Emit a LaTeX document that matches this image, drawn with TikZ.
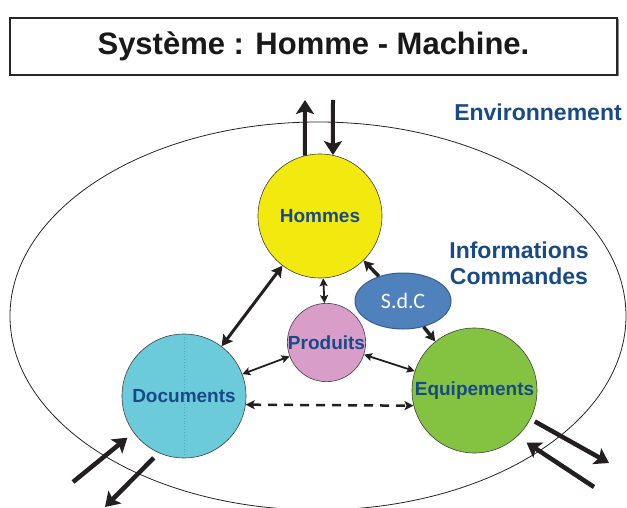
\documentclass[tikz,border=0pt]{standalone}
\usepackage{fontspec}
\setmainfont{Liberation Sans}
\newfontfamily\sdcfont{Carlito}
\usepackage{tikz}
\usetikzlibrary{arrows.meta,shadows,shapes.geometric}

\definecolor{txtblue}{RGB}{24,74,134}
\definecolor{homyellow}{RGB}{242,234,14}
\definecolor{prodpink}{RGB}{216,157,200}
\definecolor{doccyan}{RGB}{108,203,218}
\definecolor{docline}{RGB}{84,168,196}
\definecolor{equipgreen}{RGB}{132,195,65}
\definecolor{sdcblue}{RGB}{79,129,189}
\definecolor{sdcedge}{RGB}{56,93,138}
\definecolor{arrowblack}{RGB}{35,31,32}

\tikzset{
	pole/.style={circle, draw=black!75, line width=0.6pt, inner sep=0pt, minimum size=124pt,
		font=\fontsize{19}{22}\selectfont\bfseries, text=txtblue},
	titlebox/.style={draw=black!85, line width=1.3pt, fill=white, minimum width=607pt, minimum height=57pt,
		font=\fontsize{31}{36}\selectfont\bfseries, text=black!90,
		drop shadow={shadow xshift=1.5pt, shadow yshift=-1.5pt, fill=black!45, opacity=1}},
	envlabel/.style={font=\fontsize{23}{26}\selectfont\bfseries, text=txtblue, align=center, inner sep=0pt},
	bigarrow/.style={line width=4.5pt, color=arrowblack, -{Stealth[length=14pt,width=18pt,inset=3pt]}},
	midarrow/.style={line width=3pt, color=arrowblack, {Stealth[length=11pt,width=12pt,inset=2pt]}-{Stealth[length=11pt,width=12pt,inset=2pt]}},
	sdcarrow/.style={line width=3.5pt, color=arrowblack, -{Stealth[length=10pt,width=11pt,inset=2pt]}},
	thinarrow/.style={line width=1.8pt, color=arrowblack, {Stealth[length=8pt,width=8pt,inset=1.5pt]}-{Stealth[length=8pt,width=8pt,inset=1.5pt]}},
	dasharrow/.style={line width=2.5pt, color=arrowblack, dash pattern=on 9pt off 7pt, {Stealth[length=9pt,width=9pt,inset=2pt]}-{Stealth[length=9pt,width=9pt,inset=2pt]}}
}

\begin{document}
\begin{tikzpicture}[x=1pt, y=-1pt]
	%%%%% START %%%%%
	\useasboundingbox (0,0) rectangle (627,508);
	
	\node[titlebox] (title) at (313.5,46.5) {Système : Homme - Machine.};
	
	% environnement
	\draw[line width=0.8pt, color=black!85] (318,316) ellipse [x radius=308, y radius=194];
	\node[envlabel] (env) at (538,112) {Environnement};
	\node[envlabel] (info) at (519,263) {Informations\\Commandes};
	
	% les poles
	\node[pole, fill=homyellow] (hom) at (320,216) {Hommes};
	\node[pole, fill=prodpink, minimum size=77pt] (prod) at (326.5,342.5) {Produits};
	\node[pole, fill=doccyan] (doc) at (184,396) {};
	\draw[dotted, line width=0.8pt, color=docline] (doc.north) -- (doc.south);
	\node[font=\fontsize{19}{22}\selectfont\bfseries, text=txtblue] (doclabel) at (doc) {Documents};
	\node[pole, fill=equipgreen, minimum size=125pt] (equip) at (474.5,390.5) {Equipements};
	\node[ellipse, draw=sdcedge, line width=1pt, fill=sdcblue, minimum width=96pt, minimum height=56pt,
		font=\sdcfont\fontsize{22}{24}\selectfont, text=white] (sdc) at (403,301) {S.d.C};
	
	% liaisons internes
	\draw[midarrow] (hom) -- (doc);
	\draw[thinarrow] (hom) -- (prod);
	\draw[sdcarrow] (sdc) -- (hom);
	\draw[sdcarrow] (sdc) -- (equip);
	\draw[thinarrow] (prod) -- (doc);
	\draw[thinarrow] (prod) -- (equip);
	\draw[dasharrow] (doc.-8) -- (equip.194);
	
	% echanges avec l'environnement
	\coordinate (topOut) at (305,100);
	\coordinate (topIn) at (333,100);
	\draw[bigarrow, line width=4pt] (hom.104) -- (topOut);
	\draw[bigarrow, line width=4pt] (topIn) -- (hom.78);
	
	\coordinate (docIn) at (73,482);
	\coordinate (docOut) at (105,507);
	\draw[bigarrow, shorten >=8pt] (docIn) -- (doc.216);
	\draw[bigarrow, shorten <=7pt] (doc.246) -- (docOut);
	
	\coordinate (eqOut) at (609,463);
	\coordinate (eqIn) at (594,487);
	\draw[bigarrow, shorten <=5pt] (equip.-27) -- (eqOut);
	\draw[bigarrow, shorten >=11pt] (eqIn) -- (equip.-47);
	
	%%%%% END %%%%%
\end{tikzpicture}
\end{document}
